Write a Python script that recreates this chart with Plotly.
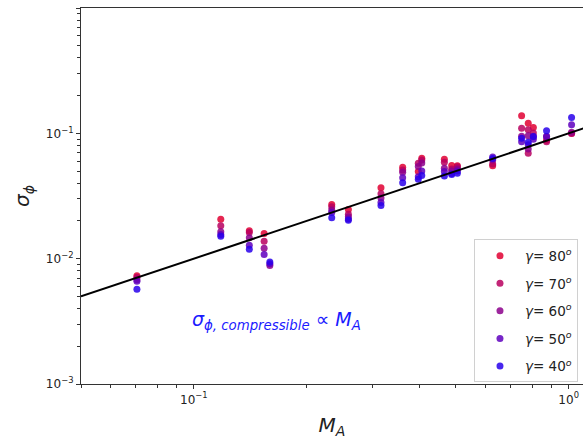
import plotly.graph_objects as go
import numpy as np

# ---- data ----
gamma_labels = ["80", "70", "60", "50", "40"]
gamma_colors = ["rgb(225,0,50)", "rgb(185,0,95)", "rgb(140,0,140)", "rgb(95,0,190)", "rgb(40,0,235)"]

ma_80 = [0.0705, 0.118, 0.1406, 0.154, 0.2333, 0.2584, 0.3157, 0.3607, 0.397, 0.4056, 0.466, 0.4875, 0.5047, 0.627, 0.749, 0.78, 0.805, 0.873, 1.018]
sig_80 = [0.0073, 0.0206, 0.0167, 0.0159, 0.0271, 0.0247, 0.0368, 0.0537, 0.0495, 0.0633, 0.0622, 0.0553, 0.055, 0.055, 0.138, 0.1206, 0.1113, 0.088, 0.100]

ma_70 = [0.0705, 0.118, 0.1406, 0.154, 0.2333, 0.2584, 0.3157, 0.3607, 0.397, 0.4056, 0.466, 0.4875, 0.5047, 0.627, 0.749, 0.78, 0.78, 0.805, 0.873, 1.018]
sig_70 = [0.0071, 0.0183, 0.0162, 0.0138, 0.0260, 0.0226, 0.033, 0.0511, 0.0578, 0.0614, 0.0588, 0.052, 0.054, 0.057, 0.110, 0.1067, 0.0694, 0.1004, 0.0855, 0.0996]

ma_60 = [0.0705, 0.118, 0.1406, 0.154, 0.1595, 0.2333, 0.2584, 0.3157, 0.3607, 0.397, 0.4056, 0.466, 0.4875, 0.5047, 0.627, 0.749, 0.78, 0.78, 0.805, 0.873, 1.018]
sig_60 = [0.0068, 0.0164, 0.0147, 0.0121, 0.0088, 0.0244, 0.0216, 0.0305, 0.0489, 0.0543, 0.058, 0.0527, 0.050, 0.052, 0.0614, 0.095, 0.0955, 0.075, 0.0942, 0.0942, 0.1022]

ma_50 = [0.0705, 0.118, 0.1406, 0.154, 0.1595, 0.2333, 0.2584, 0.3157, 0.3607, 0.397, 0.4056, 0.466, 0.4875, 0.5047, 0.627, 0.749, 0.78, 0.805, 0.873, 1.018]
sig_50 = [0.0066, 0.0156, 0.0128, 0.0108, 0.0091, 0.0234, 0.0207, 0.028, 0.0443, 0.0451, 0.050, 0.0495, 0.0479, 0.050, 0.0646, 0.0855, 0.0809, 0.0897, 0.0942, 0.117]

ma_40 = [0.0705, 0.118, 0.1406, 0.1595, 0.2333, 0.2584, 0.3157, 0.3607, 0.397, 0.4056, 0.466, 0.4875, 0.5047, 0.627, 0.749, 0.78, 0.805, 0.873, 1.018]
sig_40 = [0.0057, 0.0151, 0.0119, 0.0094, 0.0212, 0.0203, 0.0265, 0.0404, 0.043, 0.046, 0.0457, 0.047, 0.048, 0.063, 0.0915, 0.085, 0.0942, 0.1047, 0.1337]

fit_coef = 0.1
fit_ma = [0.05, 1.1]

x_major = [0.1, 1]
x_major_text = ["10<sup>−1</sup>", "10<sup>0</sup>"]
x_minor = [0.05, 0.06, 0.07, 0.08, 0.09, 0.2, 0.3, 0.4, 0.5, 0.6, 0.7, 0.8, 0.9]
y_major = [0.001, 0.01, 0.1, 1]
y_major_text = ["10<sup>−3</sup>", "10<sup>−2</sup>", "10<sup>−1</sup>", "10<sup>0</sup>"]
y_minor = [m * 10.0 ** e for e in (-3, -2, -1) for m in range(2, 10)]

series_x = [ma_80, ma_70, ma_60, ma_50, ma_40]
series_y = [sig_80, sig_70, sig_60, sig_50, sig_40]

fig = go.Figure()
for i, (lab, col) in enumerate(zip(gamma_labels, gamma_colors)):
    fig.add_trace(go.Scatter(
        x=series_x[i], y=series_y[i], mode="markers",
        marker=dict(size=7, color=col, opacity=0.85, line=dict(width=0)),
        name=f"<i>γ</i>= {lab}<sup><i>o</i></sup>",
        legendgroup=f"g{i}",
    ))

fx = np.array(fit_ma)
fig.add_trace(go.Scatter(x=fx, y=fit_coef * fx, mode="lines",
                         line=dict(color="black", width=2), showlegend=False))

axis_common = dict(type="log", showgrid=False, zeroline=False, showline=True,
                   linecolor="#333", linewidth=1.2, ticks="outside", ticklen=4,
                   tickcolor="#333", tickfont=dict(size=12, color="#222"))

fig.update_xaxes(**axis_common, range=[np.log10(0.05), np.log10(1.092)],
                 tickmode="array", tickvals=x_major, ticktext=x_major_text,
                 minor=dict(tickmode="array", tickvals=x_minor, ticks="outside", ticklen=2.5, tickcolor="#333"),
                 mirror=True,
                 title=dict(text="<i>M</i><sub><i>A</i></sub>", font=dict(size=20, color="#222"), standoff=12))
fig.update_yaxes(**axis_common, range=[-3, 0],
                 tickmode="array", tickvals=y_major, ticktext=y_major_text,
                 minor=dict(tickmode="array", tickvals=y_minor, ticks="outside", ticklen=2.5, tickcolor="#333"),
                 title=dict(text="<i>σ</i><sub><i>ϕ</i></sub>", font=dict(size=20, color="#222"), standoff=10))

fig.add_annotation(x=-0.78, y=-2.49, xref="x", yref="y", showarrow=False,
                   text="<i>σ</i><sub><i>ϕ, compressible</i></sub> ∝ <i>M</i><sub><i>A</i></sub>",
                   font=dict(size=19, color="#1a1aff"))

fig.update_layout(
    width=583, height=448,
    margin=dict(l=81, r=0, t=8, b=64),
    paper_bgcolor="white", plot_bgcolor="white",
    font=dict(family="DejaVu Sans", color="#222"),
    legend=dict(x=0.99, y=0.004, xanchor="right", yanchor="bottom",
                bgcolor="rgba(255,255,255,0.9)", bordercolor="#d0d0d0", borderwidth=1,
                font=dict(size=13.5), tracegroupgap=7, itemwidth=40),
)

fig.write_html("out.html")
